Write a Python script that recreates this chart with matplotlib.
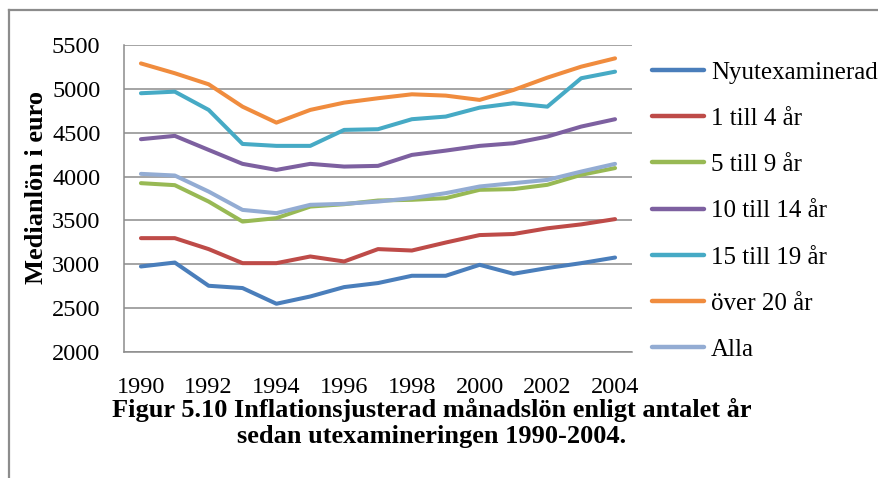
import matplotlib
matplotlib.use("Agg")
import matplotlib.pyplot as plt
from matplotlib.lines import Line2D

years = list(range(1990, 2005))
nyutexaminerad = [2975, 3020, 2755, 2729, 2550, 2633, 2740, 2786, 2869, 2869, 2994, 2892, 2957, 3013, 3077]
till_1_4 = [3298, 3298, 3173, 3013, 3013, 3089, 3032, 3173, 3157, 3248, 3333, 3345, 3410, 3455, 3515]
till_5_9 = [3925, 3902, 3715, 3487, 3526, 3658, 3685, 3727, 3735, 3754, 3849, 3857, 3906, 4020, 4097]
till_10_14 = [4426, 4464, 4304, 4145, 4076, 4145, 4114, 4122, 4247, 4296, 4350, 4380, 4456, 4570, 4654]
till_15_19 = [4950, 4968, 4760, 4372, 4350, 4350, 4532, 4540, 4654, 4684, 4786, 4836, 4797, 5121, 5196]
over_20 = [5290, 5178, 5052, 4797, 4615, 4760, 4843, 4893, 4938, 4923, 4874, 4987, 5128, 5253, 5348]
alla = [4031, 4012, 3829, 3620, 3583, 3678, 3689, 3715, 3754, 3811, 3887, 3925, 3962, 4057, 4145]

labels = ["Nyutexaminerad", "1 till 4 år", "5 till 9 år", "10 till 14 år",
          "15 till 19 år", "över 20 år", "Alla"]
series = [nyutexaminerad, till_1_4, till_5_9, till_10_14, till_15_19, over_20, alla]
colors = ["#4A7EBB", "#BE4B48", "#98B954", "#7D60A0", "#46AAC5", "#F08C3E", "#93ACD3"]

yticks = [2000, 2500, 3000, 3500, 4000, 4500, 5000, 5500]
xticks = [1990, 1992, 1994, 1996, 1998, 2000, 2002, 2004]

plt.rcParams['font.family'] = ['Liberation Serif', 'DejaVu Serif']

W, H = 879, 478
fig = plt.figure(figsize=(W / 100, H / 100), dpi=100)
fig.patch.set_facecolor("white")

# outer frame lines
fig.add_artist(Line2D([9 / W, 9 / W], [0, 1 - 10 / H], transform=fig.transFigure,
                      color="#8C8C8C", lw=1.6))
fig.add_artist(Line2D([9 / W, 1], [1 - 10 / H, 1 - 10 / H], transform=fig.transFigure,
                      color="#8C8C8C", lw=1.6))

left, right, top, bottom = 124, 632, 45, 352
ax = fig.add_axes([left / W, 1 - bottom / H, (right - left) / W, (bottom - top) / H])

handles = []
for vals, lab, col in zip(series, labels, colors):
    h, = ax.plot(years, vals, color=col, lw=2.9, label=lab, solid_capstyle='round',
                 solid_joinstyle='round', zorder=3)
    handles.append(h)

ax.set_xlim(1989.5, 2004.5)
ax.set_ylim(2000, 5500)
ax.set_yticks(yticks)
ax.set_yticklabels([str(v) for v in yticks])
ax.set_xticks(xticks)
ax.set_xticklabels([str(v) for v in xticks])
ax.tick_params(axis='both', length=0, labelsize=17.5)
ax.tick_params(axis='y', pad=17)
ax.tick_params(axis='x', pad=18)
ax.grid(axis='y', color="#8C8C8C", lw=1.1, zorder=0)
for s in ['top', 'right']:
    ax.spines[s].set_visible(False)
for s in ['left', 'bottom']:
    ax.spines[s].set_color("#8C8C8C")
    ax.spines[s].set_linewidth(1.1)

fig.text(37 / W, 1 - 187 / H, "Medianlön i euro", rotation=90, ha='center', va='center',
         fontsize=19, fontweight='bold')

leg = fig.legend(handles=handles, labels=labels, loc='upper left',
                 bbox_to_anchor=(652 / W, 1 - 61 / H), frameon=False,
                 fontsize=18, handlelength=2.1, handletextpad=0.25,
                 labelspacing=0.95, borderaxespad=0, borderpad=0)
for lh in leg.get_lines():
    lh.set_linewidth(3.2)

fig.text(432 / W, 1 - 410 / H, "Figur 5.10 Inflationsjusterad månadslön enligt antalet år",
         ha='center', va='center', fontsize=19, fontweight='bold')
fig.text(432 / W, 1 - 436 / H, "sedan utexamineringen 1990-2004.",
         ha='center', va='center', fontsize=19, fontweight='bold')

fig.savefig("out.png", dpi=100)
